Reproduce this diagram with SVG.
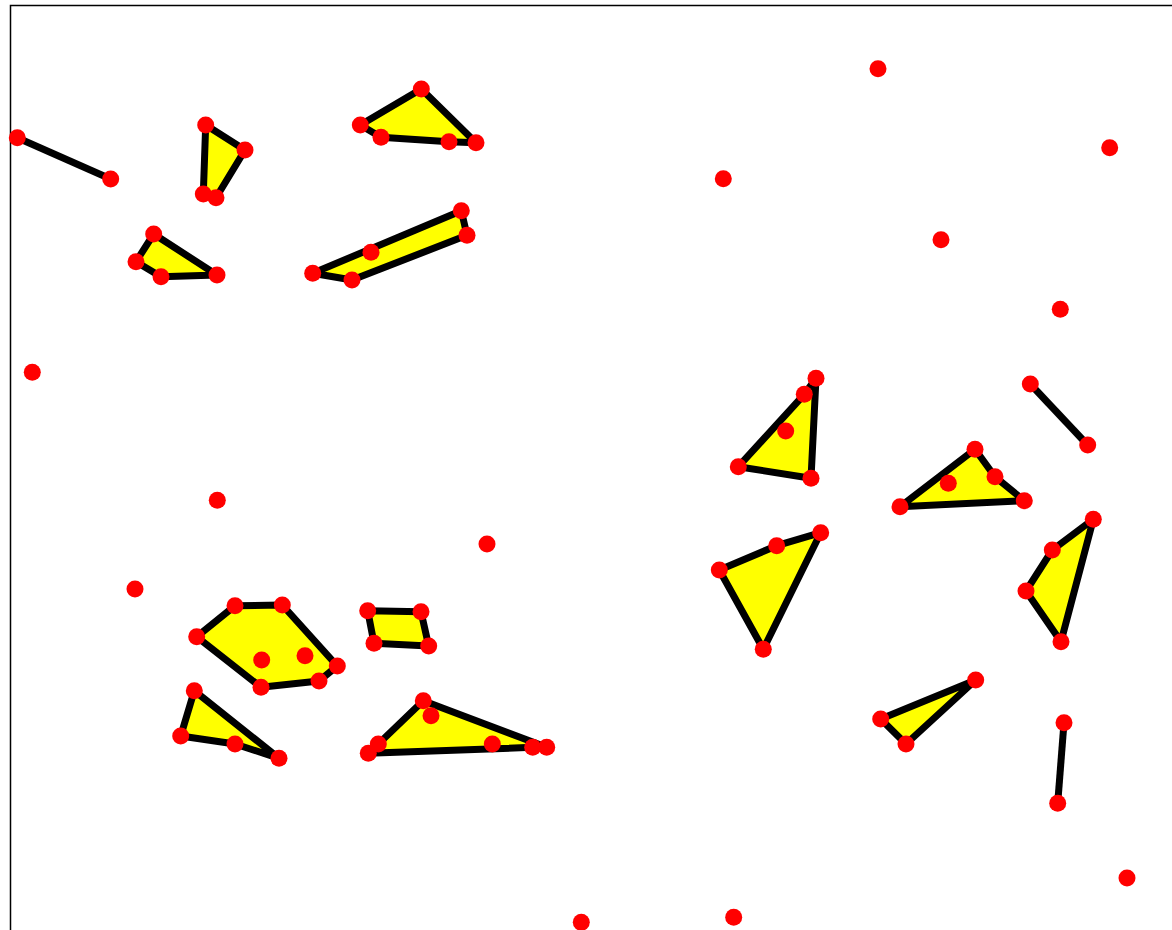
<svg xmlns="http://www.w3.org/2000/svg" width="1172" height="930" viewBox="0 0 1172 930">
<style>
.hull{fill:#ffff00;stroke:#000;stroke-width:7;stroke-linejoin:round}
.seg{stroke:#000;stroke-width:7;fill:none}
.pt{fill:#ff0000}
</style>
<rect x="0" y="0" width="1172" height="930" fill="#fff"/>
<rect x="10.5" y="5.5" width="1200" height="1000" fill="none" stroke="#000" stroke-width="1.5"/>
<g id="connectors">
<line class="seg" x1="17.3" y1="137.7" x2="110.7" y2="179"/>
<line class="seg" x1="1030.3" y1="384" x2="1087.7" y2="445"/>
<line class="seg" x1="1064" y1="722.7" x2="1057.7" y2="803.3"/>
</g>
<g id="hulls">
<polygon id="h1" class="hull" points="205.7,125 245,150 216,197.7 203.3,194"/>
<polygon id="h2" class="hull" points="421.3,89 476,142.7 449,141.7 381,137.3 360.3,125"/>
<polygon id="h3" class="hull" points="153.7,234 217,275 161,276.7 136,261.7"/>
<polygon id="h4" class="hull" points="312.7,273.3 461.3,210.7 467,235.3 352,280"/>
<polygon id="h5" class="hull" points="196.7,636.7 235,605.7 282.3,605 337.3,666 319,681 261,687.3"/>
<polygon id="h6" class="hull" points="367.7,610.7 421,611.7 428.7,646 374,643.3"/>
<polygon id="h7" class="hull" points="194.3,690.7 279,758.3 235,744 180.7,736"/>
<polygon id="h8" class="hull" points="423.3,700.7 546.7,747.3 532.7,747.3 368.3,753.3 378.3,744"/>
<polygon id="h9" class="hull" points="816,378.3 811,478.3 738.3,466.7 804.3,394.3"/>
<polygon id="h10" class="hull" points="975,449.3 995,476.7 1024.3,500.7 900,506.7"/>
<polygon id="h11" class="hull" points="820.7,532.7 763.3,649.3 719.3,570 776.7,545.7"/>
<polygon id="h12" class="hull" points="1093.3,519.3 1061,641.7 1026,591 1052.3,550"/>
<polygon id="h13" class="hull" points="975.7,680 906,744 880.7,719"/>
</g>
<g id="points">
<circle class="pt" cx="17.3" cy="137.7" r="8.5"/>
<circle class="pt" cx="110.7" cy="179" r="8.5"/>
<circle class="pt" cx="205.7" cy="125" r="8.5"/>
<circle class="pt" cx="245" cy="150" r="8.5"/>
<circle class="pt" cx="216" cy="197.7" r="8.5"/>
<circle class="pt" cx="203.3" cy="194" r="8.5"/>
<circle class="pt" cx="421.3" cy="89" r="8.5"/>
<circle class="pt" cx="360.3" cy="125" r="8.5"/>
<circle class="pt" cx="381" cy="137.3" r="8.5"/>
<circle class="pt" cx="449" cy="141.7" r="8.5"/>
<circle class="pt" cx="476" cy="142.7" r="8.5"/>
<circle class="pt" cx="153.7" cy="234" r="8.5"/>
<circle class="pt" cx="136" cy="261.7" r="8.5"/>
<circle class="pt" cx="161" cy="276.7" r="8.5"/>
<circle class="pt" cx="217" cy="275" r="8.5"/>
<circle class="pt" cx="312.7" cy="273.3" r="8.5"/>
<circle class="pt" cx="352" cy="280" r="8.5"/>
<circle class="pt" cx="371" cy="252.3" r="8.5"/>
<circle class="pt" cx="461.3" cy="210.7" r="8.5"/>
<circle class="pt" cx="467" cy="235.3" r="8.5"/>
<circle class="pt" cx="235" cy="605.7" r="8.5"/>
<circle class="pt" cx="282.3" cy="605" r="8.5"/>
<circle class="pt" cx="196.7" cy="636.7" r="8.5"/>
<circle class="pt" cx="337.3" cy="666" r="8.5"/>
<circle class="pt" cx="319" cy="681" r="8.5"/>
<circle class="pt" cx="261" cy="687.3" r="8.5"/>
<circle class="pt" cx="261.7" cy="660" r="8.5"/>
<circle class="pt" cx="305" cy="655.7" r="8.5"/>
<circle class="pt" cx="367.7" cy="610.7" r="8.5"/>
<circle class="pt" cx="421" cy="611.7" r="8.5"/>
<circle class="pt" cx="374" cy="643.3" r="8.5"/>
<circle class="pt" cx="428.7" cy="646" r="8.5"/>
<circle class="pt" cx="194.3" cy="690.7" r="8.5"/>
<circle class="pt" cx="180.7" cy="736" r="8.5"/>
<circle class="pt" cx="235" cy="744" r="8.5"/>
<circle class="pt" cx="279" cy="758.3" r="8.5"/>
<circle class="pt" cx="423.3" cy="700.7" r="8.5"/>
<circle class="pt" cx="431" cy="715.7" r="8.5"/>
<circle class="pt" cx="378.3" cy="744" r="8.5"/>
<circle class="pt" cx="368.3" cy="753.3" r="8.5"/>
<circle class="pt" cx="492.3" cy="744" r="8.5"/>
<circle class="pt" cx="532.7" cy="747.3" r="8.5"/>
<circle class="pt" cx="546.7" cy="747.3" r="8.5"/>
<circle class="pt" cx="816" cy="378.3" r="8.5"/>
<circle class="pt" cx="804.3" cy="394.3" r="8.5"/>
<circle class="pt" cx="785.7" cy="431" r="8.5"/>
<circle class="pt" cx="738.3" cy="466.7" r="8.5"/>
<circle class="pt" cx="811" cy="478.3" r="8.5"/>
<circle class="pt" cx="1030.3" cy="384" r="8.5"/>
<circle class="pt" cx="1087.7" cy="445" r="8.5"/>
<circle class="pt" cx="975" cy="449.3" r="8.5"/>
<circle class="pt" cx="995" cy="476.7" r="8.5"/>
<circle class="pt" cx="948.3" cy="483.3" r="8.5"/>
<circle class="pt" cx="900" cy="506.7" r="8.5"/>
<circle class="pt" cx="1024.3" cy="500.7" r="8.5"/>
<circle class="pt" cx="820.7" cy="532.7" r="8.5"/>
<circle class="pt" cx="776.7" cy="545.7" r="8.5"/>
<circle class="pt" cx="719.3" cy="570" r="8.5"/>
<circle class="pt" cx="763.3" cy="649.3" r="8.5"/>
<circle class="pt" cx="1093.3" cy="519.3" r="8.5"/>
<circle class="pt" cx="1052.3" cy="550" r="8.5"/>
<circle class="pt" cx="1026" cy="591" r="8.5"/>
<circle class="pt" cx="1061" cy="641.7" r="8.5"/>
<circle class="pt" cx="975.7" cy="680" r="8.5"/>
<circle class="pt" cx="880.7" cy="719" r="8.5"/>
<circle class="pt" cx="906" cy="744" r="8.5"/>
<circle class="pt" cx="1064" cy="722.7" r="8.5"/>
<circle class="pt" cx="1057.7" cy="803.3" r="8.5"/>
<circle class="pt" cx="878" cy="68.7" r="8.5"/>
<circle class="pt" cx="1109.7" cy="147.7" r="8.5"/>
<circle class="pt" cx="723.3" cy="178.7" r="8.5"/>
<circle class="pt" cx="941" cy="239.7" r="8.5"/>
<circle class="pt" cx="1060.3" cy="309.3" r="8.5"/>
<circle class="pt" cx="32.3" cy="372.3" r="8.5"/>
<circle class="pt" cx="217.3" cy="500.3" r="8.5"/>
<circle class="pt" cx="135" cy="589" r="8.5"/>
<circle class="pt" cx="487" cy="544" r="8.5"/>
<circle class="pt" cx="1127" cy="878" r="8.5"/>
<circle class="pt" cx="581.3" cy="922.3" r="8.5"/>
<circle class="pt" cx="733.7" cy="917.3" r="8.5"/>
</g>
</svg>
